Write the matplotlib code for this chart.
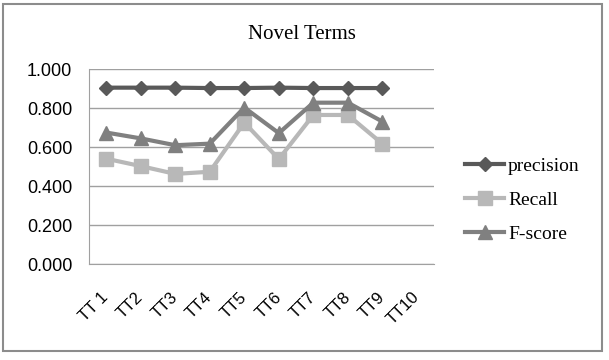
import matplotlib.pyplot as plt
from matplotlib.patches import Rectangle

# --- Data ---
categories = ['TT 1', 'TT2', 'TT3', 'TT4', 'TT5', 'TT6', 'TT7', 'TT8', 'TT9', 'TT10']
precision = [0.905, 0.905, 0.905, 0.903, 0.903, 0.905, 0.903, 0.903, 0.903]
recall = [0.541, 0.503, 0.463, 0.474, 0.726, 0.539, 0.765, 0.765, 0.617]
fscore = [0.675, 0.645, 0.610, 0.618, 0.803, 0.672, 0.828, 0.828, 0.731]
yticks = [0.0, 0.2, 0.4, 0.6, 0.8, 1.0]

fig = plt.figure(figsize=(6.09, 3.6), dpi=100)
ax = fig.add_axes([0.146, 0.266, 0.567, 0.542])

x = list(range(len(categories)))
ax.plot(x[:len(precision)], precision, color='#595959', lw=3, marker='D', ms=7, label='precision')
ax.plot(x[:len(recall)], recall, color='#b8b8b8', lw=3, marker='s', ms=9.5, label='Recall')
ax.plot(x[:len(fscore)], fscore, color='#808080', lw=3, marker='^', ms=10, label='F-score')

ax.set_xlim(-0.5, len(categories) - 0.5)
ax.set_ylim(0, 1.0)
ax.set_yticks(yticks)
ax.set_yticklabels([f'{v:.3f}' for v in yticks], fontsize=13, family='Liberation Sans')
ax.set_xticks(x)
ax.set_xticklabels(categories, rotation=45, ha='right', va='center', rotation_mode='anchor',
                   fontsize=12, family='Liberation Sans')
ax.tick_params(axis='y', length=0, pad=12)
ax.tick_params(axis='x', length=0, pad=22)
ax.grid(axis='y', color='#a0a0a0', lw=1)
ax.set_axisbelow(True)
for s in ['top', 'right']:
    ax.spines[s].set_visible(False)
for s in ['left', 'bottom']:
    ax.spines[s].set_color('#a0a0a0')

fig.text(0.496, 0.905, 'Novel Terms', ha='center', va='center', fontsize=15, family='Liberation Serif')

ax.legend(loc='center left', bbox_to_anchor=(0.735, 0.444), bbox_transform=fig.transFigure,
          frameon=False, prop={'family': 'Liberation Serif', 'size': 14}, handlelength=2.0,
          handletextpad=0.2, labelspacing=0.85)

fig.patches.append(Rectangle((0.005, 0.025), 0.984, 0.964, transform=fig.transFigure,
                             fill=False, edgecolor='#8c8c8c', lw=1.5))

plt.savefig('out.png', dpi=100)
plt.close()
